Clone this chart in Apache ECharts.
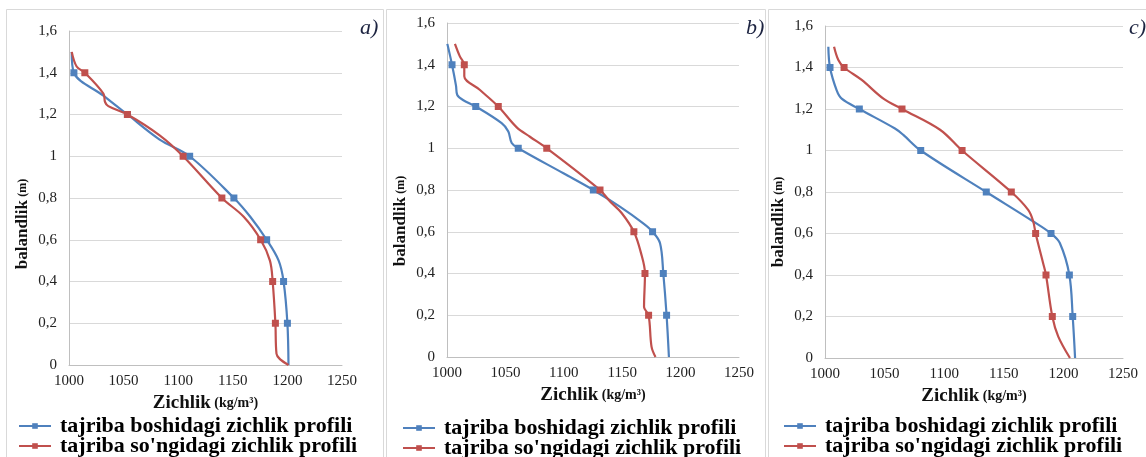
<!DOCTYPE html>
<html>
<head>
<meta charset="utf-8">
<script src="https://cdn.jsdelivr.net/npm/echarts@6/dist/echarts.min.js"></script>
<style>
  html, body { margin: 0; padding: 0; background: #fff; }
  #chart { width: 1146px; height: 457px; }
</style>
</head>
<body>
<div id="chart"></div>
<script>
// [zichlik kg/m3, balandlik m], top to bottom
const aStart = [[1002.5, 1.5], [1004.5, 1.4], [1031.5, 1.29], [1053.5, 1.2], [1083, 1.08], [1110.5, 1.0], [1151, 0.8], [1166, 0.71], [1181, 0.6], [1192, 0.5], [1196.5, 0.4], [1200, 0.2], [1201, 0]];
const aEnd = [[1002.5, 1.5], [1007, 1.43], [1014.5, 1.4], [1031.5, 1.3], [1033, 1.26], [1036, 1.24], [1053.5, 1.2], [1083, 1.1], [1104.5, 1.0], [1140, 0.8], [1160, 0.71], [1175.5, 0.6], [1184, 0.5], [1186.5, 0.4], [1189, 0.2], [1190, 0.055], [1201, 0]];

const bStart = [[1000.3, 1.5], [1004.3, 1.4], [1007.7, 1.3], [1008.8, 1.255], [1014, 1.23], [1024.6, 1.2], [1046.8, 1.12], [1052.5, 1.08], [1055.4, 1.025], [1061, 1.0], [1099.7, 0.88], [1125.3, 0.8], [1148, 0.72], [1168, 0.64], [1176, 0.6], [1182.4, 0.545], [1185.2, 0.4], [1188, 0.2], [1190, 0]];
const bEnd = [[1006.8, 1.5], [1011, 1.44], [1014.8, 1.4], [1014.8, 1.345], [1028, 1.28], [1043.9, 1.2], [1059.7, 1.1], [1071, 1.055], [1085.4, 1.0], [1131, 0.8], [1139.6, 0.745], [1149.5, 0.69], [1160, 0.6], [1166, 0.5], [1169.5, 0.4], [1168.7, 0.24], [1172.6, 0.2], [1175.1, 0.05], [1178.5, 0]];

const cStart = [[1002.8, 1.5], [1004.2, 1.4], [1009.8, 1.29], [1014, 1.25], [1028.8, 1.2], [1058.7, 1.106], [1065.7, 1.075], [1080.3, 1.0], [1135.3, 0.8], [1174.7, 0.658], [1189.6, 0.6], [1197, 0.554], [1205, 0.4], [1207.8, 0.2], [1209.8, 0]];
const cEnd = [[1007.6, 1.5], [1011.2, 1.436], [1016, 1.4], [1030.8, 1.34], [1049, 1.25], [1064.6, 1.2], [1096.5, 1.1], [1115, 1.0], [1156.3, 0.8], [1170.6, 0.713], [1174.7, 0.658], [1176.7, 0.6], [1183, 0.457], [1185.4, 0.4], [1190.7, 0.2], [1195.7, 0.103], [1205.5, 0]];

// measured heights carry a marker, the rest only shape the curve
const markerHeights = [0.2, 0.4, 0.6, 0.8, 1.0, 1.2, 1.4];
const panelLabels = ['a)', 'b)', 'c)'];
const seriesNames = ['tajriba boshidagi zichlik profili', "tajriba so'ngidagi zichlik profili"];

const BLUE = '#4f81bd';
const RED = '#c0504d';
const SERIF = "'Liberation Serif', 'Times New Roman', serif";

// panel layout (pixels)
const panels = [
    { grid: { left: 69, top: 31, width: 273, height: 334 }, box: [6, 9, 377], title: 355, legend: 18, legendTop: 415, yShift: 52, start: aStart, end: aEnd },
    { grid: { left: 447, top: 23, width: 292, height: 334 }, box: [386, 9, 379], title: 741, legend: 402, legendTop: 417, yShift: 62, start: bStart, end: bEnd },
    { grid: { left: 825, top: 26, width: 298, height: 332 }, box: [768, 9, 380], title: 1124, legend: 783, legendTop: 415, yShift: 60, start: cStart, end: cEnd }
];

function toData(pts) {
    return pts.map(p => {
        const hasMark = markerHeights.some(h => Math.abs(h - p[1]) < 1e-6);
        return hasMark ? { value: p } : { value: p, symbol: 'none' };
    });
}

const chart = echarts.init(document.getElementById('chart'), null, { renderer: 'canvas' });

const legends = [];
panels.forEach(p => {
    seriesNames.forEach((name, k) => {
        legends.push({
            left: p.legend,
            top: p.legendTop + k * 20,
            padding: 0,
            itemWidth: 32,
            itemHeight: 7,
            data: [name],
            selectedMode: false,
            textStyle: { fontFamily: SERIF, fontWeight: 'bold', fontSize: 22, lineHeight: 20, color: '#000', padding: [0, 0, 0, 4] }
        });
    });
});

const option = {
    animation: false,
    backgroundColor: '#fff',
    title: panels.map((p, i) => ({
        text: panelLabels[i],
        left: p.title,
        top: 12,
        textStyle: { fontFamily: SERIF, fontStyle: 'italic', fontWeight: 'normal', fontSize: 22, color: '#1c2340' }
    })),
    grid: panels.map(p => p.grid),
    legend: legends,
    xAxis: panels.map((p, i) => ({
        type: 'value',
        gridIndex: i,
        min: 1000,
        max: 1250,
        interval: 50,
        splitLine: { show: false },
        axisTick: { show: false },
        axisLine: { lineStyle: { color: '#bfbfbf', width: 1 } },
        axisLabel: { fontFamily: SERIF, fontSize: 15, color: '#222', margin: 9, formatter: v => String(v) },
        name: '{b|Zichlik} {s|(kg/m³)}',
        nameLocation: 'middle',
        nameGap: 26,
        nameTextStyle: {
            rich: {
                b: { fontFamily: SERIF, fontWeight: 'bold', fontSize: 19, color: '#111' },
                s: { fontFamily: SERIF, fontWeight: 'bold', fontSize: 14, color: '#111' }
            }
        }
    })),
    yAxis: panels.map((p, i) => ({
        type: 'value',
        gridIndex: i,
        min: 0,
        max: 1.6,
        interval: 0.2,
        splitLine: { lineStyle: { color: '#d9d9d9', width: 1 } },
        axisTick: { show: false },
        axisLine: { show: true, lineStyle: { color: '#bfbfbf', width: 1 } },
        axisLabel: {
            fontFamily: SERIF, fontSize: 15, color: '#222', margin: 12,
            formatter: v => String(Math.round(v * 10) / 10).replace('.', ',')
        },
        name: '{b|balandlik} {s|(m)}',
        nameLocation: 'middle',
        nameGap: 38,
        nameTextStyle: {
            padding: [0, p.yShift, 0, 0],
            rich: {
                b: { fontFamily: SERIF, fontWeight: 'bold', fontSize: 17, color: '#111' },
                s: { fontFamily: SERIF, fontWeight: 'bold', fontSize: 12, color: '#111' }
            }
        }
    })),
    series: panels.flatMap((p, i) => [
        {
            name: seriesNames[0],
            type: 'line',
            xAxisIndex: i,
            yAxisIndex: i,
            smooth: 0.35,
            symbol: 'rect',
            symbolSize: 7,
            showAllSymbol: true,
            itemStyle: { color: BLUE },
            lineStyle: { color: BLUE, width: 2.2 },
            data: toData(p.start)
        },
        {
            name: seriesNames[1],
            type: 'line',
            xAxisIndex: i,
            yAxisIndex: i,
            smooth: 0.35,
            symbol: 'rect',
            symbolSize: 7,
            showAllSymbol: true,
            itemStyle: { color: RED },
            lineStyle: { color: RED, width: 2.2 },
            data: toData(p.end)
        }
    ]),
    graphic: panels.map(p => ({
        type: 'rect',
        silent: true,
        z: -1,
        shape: { x: p.box[0] + 0.5, y: p.box[1] + 0.5, width: p.box[2], height: 480 },
        style: { fill: null, stroke: '#d9d9d9', lineWidth: 1 }
    }))
};

chart.setOption(option);
</script>
</body>
</html>
